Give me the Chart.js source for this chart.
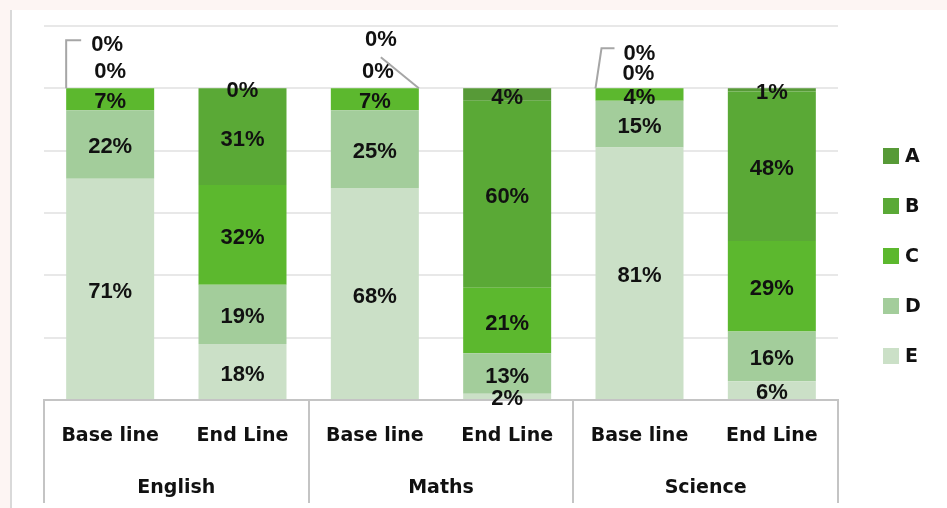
<!DOCTYPE html>
<html>
<head>
<meta charset="utf-8">
<script src="https://cdn.jsdelivr.net/npm/chart.js@4/dist/chart.umd.min.js"></script>
<style>
  html, body { margin: 0; padding: 0; }
  body { width: 947px; height: 508px; background: #fdf5f3; position: relative; overflow: hidden; }
  #frame { position: absolute; left: 10px; top: 10px; width: 937px; height: 498px; background: #fff; border-left: 2px solid #d9d9d9; }
  #wrap { position: absolute; left: 12px; top: 10px; width: 935px; height: 498px; }
</style>
</head>
<body>
<div id="frame"></div>
<div id="wrap"><canvas id="gradeChart"></canvas></div>
<script>
// === Grade distribution by subject, baseline vs endline ===
const subjects = ['English', 'Maths', 'Science'];
const rounds = ['Base line', 'End Line'];
const grades = ['A', 'B', 'C', 'D', 'E'];

// one value per bar: English base, English end, Maths base, Maths end, Science base, Science end
const gradeA = [0, 0, 0, 4, 0, 1];
const gradeB = [0, 31, 0, 60, 0, 48];
const gradeC = [7, 32, 7, 21, 4, 29];
const gradeD = [22, 19, 25, 13, 15, 16];
const gradeE = [71, 18, 68, 2, 81, 6];

const gradeColors = {
    A: '#579a37',
    B: '#5aa936',
    C: '#5cb82e',
    D: '#a3cd9b',
    E: '#cbe0c7'
};

const barLabels = [];
subjects.forEach(() => rounds.forEach(r => barLabels.push(r)));

// stacked from the bottom: E first, A on top
const seriesByGrade = { A: gradeA, B: gradeB, C: gradeC, D: gradeD, E: gradeE };
const datasets = ['E', 'D', 'C', 'B', 'A'].map(g => ({
    label: g,
    data: seriesByGrade[g],
    backgroundColor: gradeColors[g],
    borderWidth: 0,
    barPercentage: 0.665,
    categoryPercentage: 1
}));

// zero segments on baseline bars get lifted above the bar with a leader line
const callouts = {
    0: { A: [-3, -46], B: [0, -19], line: b => [[b.left, b.top], [b.left, b.top - 48], [b.left + 15, b.top - 48]] },
    2: { A: [6, -51], B: [3, -19], line: b => [[b.right, b.top], [b.x + 6, b.top - 31]] },
    4: { A: [0, -37], B: [-1, -17], line: b => [[b.left, b.top], [b.left + 6, b.top - 40], [b.left + 19, b.top - 40]] }
};

const labelFont = 'bold 22px "Liberation Sans", Arial, sans-serif';
const axisFont = { family: '"DejaVu Sans", sans-serif', size: 19, weight: 'bold' };
const textNudge = 3;

const segmentLabels = {
    id: 'segmentLabels',
    afterDatasetsDraw(chart) {
        const ctx = chart.ctx;
        ctx.save();
        ctx.font = labelFont;
        ctx.fillStyle = '#111';
        ctx.textAlign = 'center';
        ctx.textBaseline = 'middle';
        chart.data.datasets.forEach((ds, di) => {
            const meta = chart.getDatasetMeta(di);
            meta.data.forEach((bar, i) => {
                const v = ds.data[i];
                const text = v + '%';
                const c = callouts[i];
                if (c && c[ds.label] && v === 0) {
                    const half = bar.width / 2;
                    const b = { x: bar.x, top: bar.y, left: bar.x - half, right: bar.x + half };
                    const [dx, dy] = c[ds.label];
                    ctx.fillText(text, bar.x + dx, bar.y + dy + textNudge);
                    if (ds.label === 'A') {
                        const pts = c.line(b);
                        ctx.strokeStyle = '#a6a6a6';
                        ctx.lineWidth = 2;
                        ctx.beginPath();
                        pts.forEach((p, k) => k ? ctx.lineTo(p[0], p[1]) : ctx.moveTo(p[0], p[1]));
                        ctx.stroke();
                    }
                    return;
                }
                ctx.fillText(text, bar.x, (bar.y + bar.base) / 2 + textNudge);
            });
        });
        ctx.restore();
    }
};

// subject row under the round labels, plus the group dividers
const subjectAxis = {
    id: 'subjectAxis',
    afterDraw(chart) {
        const ctx = chart.ctx;
        const x = chart.scales.x;
        const area = chart.chartArea;
        const step = (area.right - area.left) / barLabels.length;
        ctx.save();
        ctx.strokeStyle = '#c4c4c4';
        ctx.lineWidth = 2;
        for (let s = 0; s <= subjects.length; s++) {
            const px = Math.round(area.left + s * step * rounds.length);
            ctx.beginPath();
            ctx.moveTo(px, area.bottom);
            ctx.lineTo(px, x.bottom);
            ctx.stroke();
        }
        ctx.font = `${axisFont.weight} ${axisFont.size}px ${axisFont.family}`;
        ctx.fillStyle = '#111';
        ctx.textAlign = 'center';
        ctx.textBaseline = 'middle';
        subjects.forEach((name, s) => {
            const mid = (x.getPixelForValue(s * 2) + x.getPixelForValue(s * 2 + 1)) / 2;
            ctx.fillText(name, mid, x.top + 88);
        });
        ctx.restore();
    }
};

// legend on the right, top grade first
const sideLegend = {
    id: 'sideLegend',
    afterDraw(chart) {
        const ctx = chart.ctx;
        ctx.save();
        ctx.font = `${axisFont.weight} ${axisFont.size}px ${axisFont.family}`;
        ctx.textBaseline = 'middle';
        ctx.textAlign = 'left';
        grades.forEach((g, k) => {
            const cy = 146 + k * 50;
            ctx.fillStyle = gradeColors[g];
            ctx.fillRect(871, cy - 8, 16, 16);
            ctx.fillStyle = '#111';
            ctx.fillText(g, 893, cy + 1);
        });
        ctx.restore();
    }
};

const ctx = document.getElementById('gradeChart').getContext('2d');
new Chart(ctx, {
    type: 'bar',
    data: { labels: barLabels, datasets: datasets },
    options: {
        responsive: true,
        maintainAspectRatio: false,
        animation: false,
        layout: { padding: { left: 32, top: 16, right: 109, bottom: 5 } },
        plugins: {
            legend: { display: false },
            tooltip: { enabled: false }
        },
        scales: {
            x: {
                stacked: true,
                grid: { display: false, drawTicks: false },
                border: { display: true, color: '#c4c4c4', width: 2 },
                ticks: { color: '#111', font: axisFont, padding: 25, maxRotation: 0 },
                afterFit(scale) { scale.height = 103; }
            },
            y: {
                stacked: true,
                min: 0,
                max: 120,
                ticks: { display: false, stepSize: 20 },
                grid: { color: '#e8e8e8', lineWidth: 2, drawTicks: false },
                border: { display: false }
            }
        }
    },
    plugins: [segmentLabels, subjectAxis, sideLegend]
});
</script>
</body>
</html>
